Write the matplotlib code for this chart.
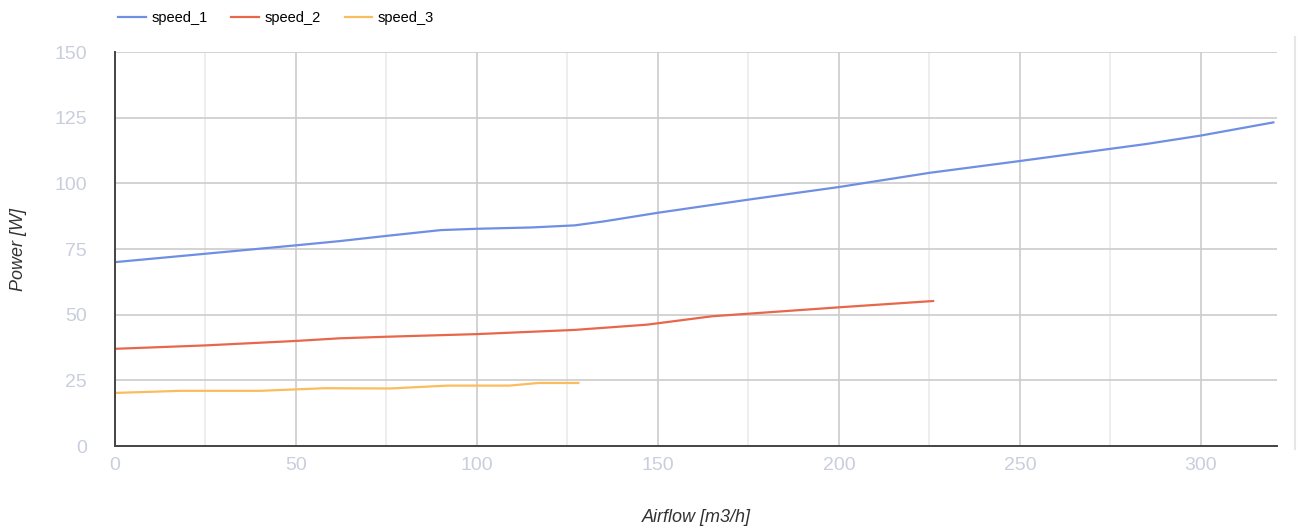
import matplotlib
matplotlib.use('Agg')
import matplotlib.pyplot as plt
from matplotlib.lines import Line2D

# speed curves
airflow_1 = [0, 25, 50, 62, 75, 90, 100, 115, 127, 135, 150, 175, 200, 225, 250, 285, 300, 320]
power_1 = [70, 73.2, 76.4, 78, 80, 82.2, 82.7, 83.2, 84, 85.5, 88.8, 93.8, 98.6, 104, 108.5, 115, 118.2, 123.2]

airflow_2 = [0, 25, 50, 62, 75, 100, 127, 147, 165, 200, 226]
power_2 = [37, 38.3, 40, 41, 41.6, 42.6, 44.2, 46.2, 49.4, 52.8, 55.2]

airflow_3 = [0, 18, 40, 58, 76, 92, 109, 117, 128]
power_3 = [20.2, 21, 21, 22, 21.9, 23, 23, 24, 24]

series_names = ['speed_1', 'speed_2', 'speed_3']
colors = ['#6f8fe3', '#e8674b', '#fbbd5c']

plt.rcParams['font.family'] = ['Liberation Sans', 'DejaVu Sans']

fig = plt.figure(figsize=(12.98, 5.28), dpi=100)
ax = fig.add_axes([0.0886, 0.1553, 0.8952, 0.7462])

for xs, ys, name, c in zip([airflow_1, airflow_2, airflow_3],
                           [power_1, power_2, power_3], series_names, colors):
    ax.plot(xs, ys, color=c, lw=1.6, label=name)

ax.set_xlim(0, 321)
ax.set_ylim(0, 150)
ax.set_xticks(range(0, 301, 50))
ax.set_yticks(range(0, 151, 25))
ax.set_xticks(range(25, 321, 50), minor=True)
ax.grid(True, which='major', color='#cccccc', lw=1.2)
ax.grid(True, which='minor', axis='x', color='#ebebeb', lw=1.2)
ax.set_axisbelow(True)

for s in ['top', 'right']:
    ax.spines[s].set_visible(False)
for s in ['left', 'bottom']:
    ax.spines[s].set_color('#444444')
    ax.spines[s].set_linewidth(1.4)

ax.tick_params(which='both', length=0, labelsize=14, labelcolor='#c8cedd')
ax.tick_params(axis='y', pad=20)
ax.tick_params(axis='x', pad=8)

ax.set_xlabel('Airflow [m3/h]', fontsize=13, style='italic', color='#333333')
ax.xaxis.set_label_coords(0.5, -0.16)
ax.set_ylabel('Power [W]', fontsize=13, style='italic', color='#333333', labelpad=20)

ax.legend(loc='center left', bbox_to_anchor=(0.081, 0.965), bbox_transform=fig.transFigure,
          ncol=3, frameon=False, fontsize=10.5, handlelength=1.9, columnspacing=1.65,
          handletextpad=0.35)

fig.add_artist(Line2D([0.9975, 0.9975], [0.15, 0.93], color='#e6e6e6', lw=1.5,
                      transform=fig.transFigure))

fig.savefig('out.png', dpi=100)
